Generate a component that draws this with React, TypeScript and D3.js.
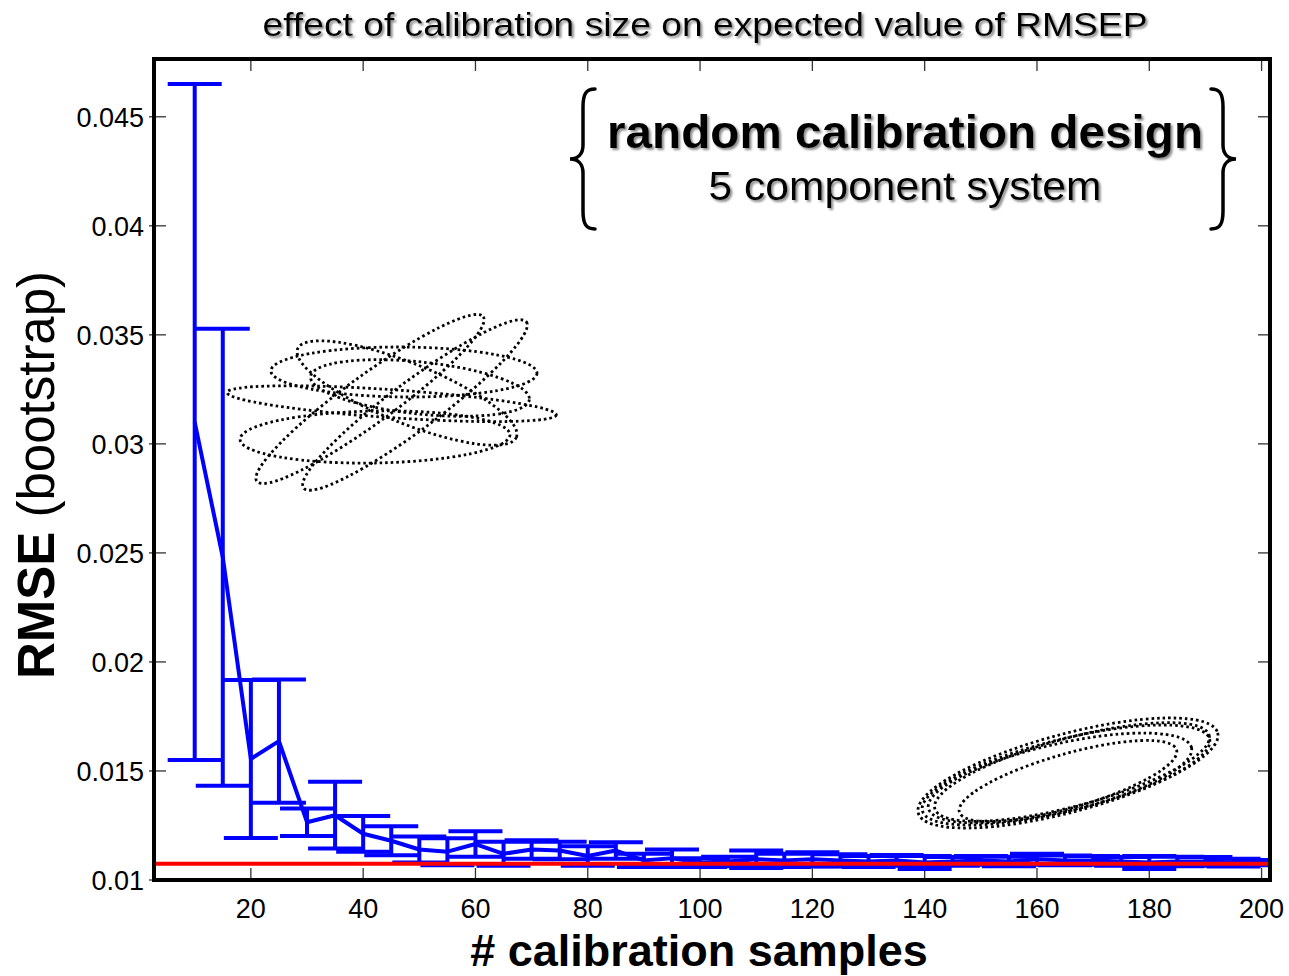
import React from 'react';
import * as d3 from 'd3';

// ---------- data ----------
const samples = [10, 15, 20, 25, 30, 35, 40, 45, 50, 55, 60, 65, 70, 75, 80, 85, 90, 95, 100,
  105, 110, 115, 120, 125, 130, 135, 140, 145, 150, 155, 160, 165, 170, 175, 180, 185, 190, 195, 200];
const rmseMean = [0.0310, 0.0248, 0.01555, 0.01637, 0.01265, 0.01297, 0.01212, 0.0118, 0.0114, 0.0113,
  0.01165, 0.0112, 0.0114, 0.01135, 0.0111, 0.01135, 0.0109, 0.011, 0.0108,
  0.01085, 0.01095, 0.0109, 0.01095, 0.0109, 0.01085, 0.0109, 0.0108, 0.01085, 0.0109, 0.01085,
  0.01095, 0.0109, 0.0109, 0.01085, 0.0108, 0.01085, 0.01085, 0.0108, 0.0108];
const rmseErr = [0.0155, 0.01048, 0.00362, 0.00283, 0.00063, 0.00153, 0.00082, 0.00066, 0.0006, 0.00062,
  0.00058, 0.00055, 0.00042, 0.0004, 0.00045, 0.00038, 0.0003, 0.0004, 0.0002,
  0.00022, 0.0004, 0.0003, 0.00032, 0.00028, 0.00025, 0.00025, 0.0003, 0.0002, 0.0002, 0.00022,
  0.00025, 0.00022, 0.0002, 0.0002, 0.0003, 0.00022, 0.0002, 0.00018, 0.00012];
const referenceRmse = 0.01075;

const xTicks = [20, 40, 60, 80, 100, 120, 140, 160, 180, 200];
const yTicks = [0.01, 0.015, 0.02, 0.025, 0.03, 0.035, 0.04, 0.045];
const yTickLabels = ['0.01', '0.015', '0.02', '0.025', '0.03', '0.035', '0.04', '0.045'];

// design ellipses: centre (samples, RMSE), semi-axes in sample units, rotation in degrees
const designCx = [45.08, 41.22, 49.23, 47.27, 47.81, 42.11, 50.12];
const designCy = [0.031843, 0.032058, 0.031783, 0.033296, 0.032333, 0.030316, 0.032563];
const designA = [29.39, 24.93, 24.75, 23.69, 21.01, 24.04, 19.59];
const designB = [2.49, 4.27, 4.27, 4.45, 5.34, 4.63, 4.63];
const designAngle = [3.9, -36, -36.7, 0.5, 22, -1, 6];

const compCx = [165.52, 165.17, 166.24, 164.1, 165.52];
const compCy = [0.014907, 0.014815, 0.014953, 0.014678, 0.01454];
const compA = [27.6, 26.36, 25.29, 24.04, 20.12];
const compB = [6.95, 6.41, 6.06, 6.06, 4.81];
const compAngle = [-15, -14, -15, -13, -16];

const titleText = 'effect of calibration size on expected value of RMSEP';
const xLabel = '# calibration samples';
const annotLine1 = 'random calibration design';
const annotLine2 = '5 component system';

// ---------- layout ----------
const W = 1289;
const H = 976;
const L = 154, R = 1270, T = 59, B = 880;
const FONT = '"Liberation Sans", Arial, Helvetica, sans-serif';

export default function App() {
  const x = d3.scaleLinear().domain([2.75, 201.5]).range([L, R]);
  const y = d3.scaleLinear().domain([0.01, 0.04765]).range([B, T]);
  const kx = x(1) - x(0);
  const cap = 27;

  const pts = samples.map((s, i) => ({ s, m: rmseMean[i], e: rmseErr[i] }));
  const line = d3.line<{ s: number; m: number }>().x(d => x(d.s)).y(d => y(d.m));

  const ellipse = (cx: number, cy: number, a: number, b: number, ang: number, key: string) => {
    const px = x(cx), py = y(cy);
    return (
      <ellipse key={key} cx={px} cy={py} rx={a * kx} ry={b * kx}
        transform={`rotate(${ang} ${px} ${py})`}
        fill="none" stroke="#000" strokeWidth={2.8} strokeDasharray="2.6 3" />
    );
  };

  const brace = (xb: number, y0: number, y1: number, dir: number) => {
    const ym = (y0 + y1) / 2;
    const d = `M ${xb + 12 * dir},${y0} C ${xb + 3 * dir},${y0} ${xb},${y0 + 5} ${xb},${y0 + 18}
      L ${xb},${ym - 14} C ${xb},${ym - 5} ${xb - 5 * dir},${ym} ${xb - 13 * dir},${ym}
      C ${xb - 5 * dir},${ym} ${xb},${ym + 5} ${xb},${ym + 14}
      L ${xb},${y1 - 18} C ${xb},${y1 - 5} ${xb + 3 * dir},${y1} ${xb + 12 * dir},${y1}`;
    return <path d={d} fill="none" stroke="#000" strokeWidth={3.5} strokeLinecap="round" />;
  };

  return (
    <svg width={W} height={H} style={{ position: 'absolute', left: 0, top: 0, background: '#fff' }}
      fontFamily={FONT}>
      <defs>
        <filter id="shadow" x="-5%" y="-30%" width="110%" height="160%">
          <feDropShadow dx="2" dy="2" stdDeviation="0.9" floodColor="#777" floodOpacity="0.85" />
        </filter>
        <clipPath id="plotclip">
          <rect x={L} y={T} width={R - L} height={B - T} />
        </clipPath>
      </defs>
      <rect x={0} y={0} width={W} height={H} fill="#fff" />

      {/* title */}
      <text x={705} y={36} textAnchor="middle" fontSize={34} textLength={885}
        lengthAdjust="spacingAndGlyphs" filter="url(#shadow)">{titleText}</text>

      {/* ticks */}
      {xTicks.map(t => (
        <g key={'xt' + t}>
          <line x1={x(t)} x2={x(t)} y1={B} y2={B - 12} stroke="#333" strokeWidth={1.3} />
          <line x1={x(t)} x2={x(t)} y1={T} y2={T + 12} stroke="#333" strokeWidth={1.3} />
          <text x={x(t)} y={B + 38} textAnchor="middle" fontSize={27}>{t}</text>
        </g>
      ))}
      {yTicks.map((t, i) => (
        <g key={'yt' + t}>
          <line x1={L - 5} x2={L + 12} y1={y(t)} y2={y(t)} stroke="#333" strokeWidth={1.3} />
          <line x1={R} x2={R - 12} y1={y(t)} y2={y(t)} stroke="#333" strokeWidth={1.3} />
          <text x={L - 10} y={y(t) + 10} textAnchor="end" fontSize={27}>{yTickLabels[i]}</text>
        </g>
      ))}

      {/* data */}
      <g clipPath="url(#plotclip)">
        {designCx.map((c, i) => ellipse(c, designCy[i], designA[i], designB[i], designAngle[i], 'd' + i))}
        {compCx.map((c, i) => ellipse(c, compCy[i], compA[i], compB[i], compAngle[i], 'c' + i))}

        <g stroke="#0000ff" strokeWidth={4} fill="none">
          {pts.map(p => (
            <g key={'eb' + p.s}>
              <line x1={x(p.s)} x2={x(p.s)} y1={y(p.m - p.e)} y2={y(p.m + p.e)} />
              <line x1={x(p.s) - cap} x2={x(p.s) + cap} y1={y(p.m + p.e)} y2={y(p.m + p.e)} />
              <line x1={x(p.s) - cap} x2={x(p.s) + cap} y1={y(p.m - p.e)} y2={y(p.m - p.e)} />
            </g>
          ))}
          <path d={line(pts) || ''} strokeLinejoin="round" />
        </g>
        <line x1={L} x2={R} y1={y(referenceRmse)} y2={y(referenceRmse)} stroke="#ff0000" strokeWidth={4} />
      </g>

      {/* frame */}
      <rect x={L} y={T} width={R - L} height={B - T} fill="none" stroke="#000" strokeWidth={4} />

      {/* annotation */}
      {brace(583, 89, 229, 1)}
      {brace(1223, 89, 229, -1)}
      <text x={905} y={148} textAnchor="middle" fontSize={46} fontWeight="bold" textLength={596}
        lengthAdjust="spacingAndGlyphs" filter="url(#shadow)">{annotLine1}</text>
      <text x={905} y={200} textAnchor="middle" fontSize={40} textLength={393}
        lengthAdjust="spacingAndGlyphs" filter="url(#shadow)">{annotLine2}</text>

      {/* axis labels */}
      <text x={699} y={966} textAnchor="middle" fontSize={45} fontWeight="bold">{xLabel}</text>
      <text transform={`translate(54, ${475}) rotate(-90)`} textAnchor="middle" fontSize={51}>
        <tspan fontWeight="bold">RMSE</tspan>
        <tspan> (bootstrap)</tspan>
      </text>
    </svg>
  );
}
